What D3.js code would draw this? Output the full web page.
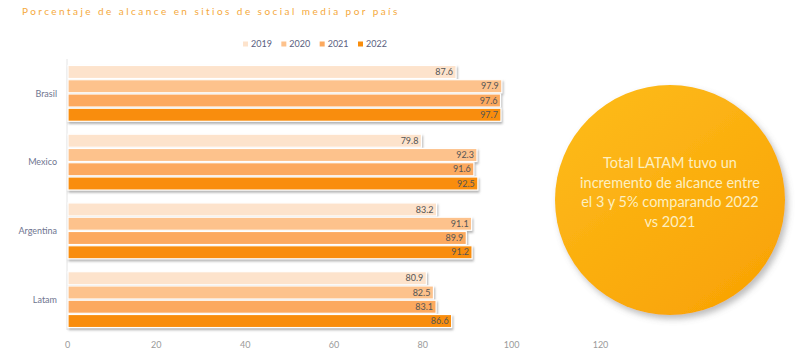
<!DOCTYPE html>
<html lang="es">
<head>
    <meta charset="UTF-8">
    <title>Alcance social media</title>
    <script src="https://d3js.org/d3.v7.min.js"></script>
    <style>
        body { margin: 0; background: #fff; }
        text { font-family: Lato, "Liberation Sans", sans-serif; }
        .tick text { fill: #9a9a9a; font-size: 9px; }
        .cat-label { fill: #6f7590; font-size: 9px; }
        .val { fill: #555; font-size: 9px; }
        .legend text { fill: #5a6080; font-size: 9px; }
    </style>
</head>
<body>
<svg id="chart" width="800" height="364"></svg>
<script>
    // data
    var countries = ["Brasil", "Mexico", "Argentina", "Latam"];
    var years = ["2019", "2020", "2021", "2022"];
    var v2019 = [87.6, 79.8, 83.2, 80.9];
    var v2020 = [97.9, 92.3, 91.1, 82.5];
    var v2021 = [97.6, 91.6, 89.9, 83.1];
    var v2022 = [97.7, 92.5, 91.2, 86.6];
    var xTicks = [0, 20, 40, 60, 80, 100, 120];
    var yearColours = ["#fde3cc", "#fdc28c", "#fca95e", "#f98d0c"];
    var circleLines = ["Total LATAM tuvo un", "incremento de alcance entre",
        "el 3 y 5% comparando 2022", "vs 2021"];

    var series = [v2019, v2020, v2021, v2022];
    var rows = countries.map(function (c, i) {
        return {
            country: c,
            values: years.map(function (y, j) { return {year: y, value: series[j][i]}; })
        };
    });

    var svg = d3.select("#chart");
    var defs = svg.append("defs");

    defs.append("filter").attr("id", "barShadow")
        .attr("x", "-5%").attr("y", "-20%").attr("width", "115%").attr("height", "150%")
        .append("feDropShadow")
        .attr("dx", 1).attr("dy", 2).attr("stdDeviation", 1)
        .attr("flood-color", "#808080").attr("flood-opacity", 0.6);

    defs.append("filter").attr("id", "circleShadow")
        .attr("x", "-20%").attr("y", "-20%").attr("width", "150%").attr("height", "150%")
        .append("feDropShadow")
        .attr("dx", 3).attr("dy", 4).attr("stdDeviation", 3)
        .attr("flood-color", "#707070").attr("flood-opacity", 0.45);

    var grad = defs.append("linearGradient").attr("id", "circleGrad")
        .attr("x1", "20%").attr("y1", "10%").attr("x2", "85%").attr("y2", "95%");
    grad.append("stop").attr("offset", "0%").attr("stop-color", "#fdb919");
    grad.append("stop").attr("offset", "100%").attr("stop-color", "#f9a304");

    // title
    svg.append("text")
        .attr("x", 22).attr("y", 15)
        .attr("fill", "#f5a93c")
        .style("font-size", "10px")
        .style("letter-spacing", "2.45px")
        .text("Porcentaje de alcance en sitios de social media por país");

    var x = d3.scaleLinear().domain([0, 120]).range([67, 600]);
    var y0 = d3.scaleBand().domain(countries).range([59, 334])
        .paddingInner(0.17).paddingOuter(0.085);
    var y1 = d3.scaleBand().domain(years).range([0, y0.bandwidth()]).padding(0);
    var colour = d3.scaleOrdinal().domain(years).range(yearColours);

    // x axis, labels only
    var xAxis = svg.append("g")
        .attr("transform", "translate(0,342)")
        .call(d3.axisBottom(x).tickValues(xTicks).tickSize(0).tickPadding(0));
    xAxis.select(".domain").remove();

    // faint category axis line
    svg.append("line")
        .attr("x1", x(0)).attr("x2", x(0))
        .attr("y1", 59).attr("y2", 330)
        .attr("stroke", "#e4e4e4");

    var group = svg.selectAll(".group")
        .data(rows)
        .enter().append("g")
        .attr("class", "group")
        .attr("transform", function (d) { return "translate(0," + y0(d.country) + ")"; });

    group.append("g")
        .attr("filter", "url(#barShadow)")
        .selectAll("rect")
        .data(function (d) { return d.values; })
        .enter().append("rect")
        .attr("x", x(0) + 1)
        .attr("y", function (d) { return y1(d.year) + 0.6; })
        .attr("width", function (d) { return x(d.value) - x(0) - 1; })
        .attr("height", y1.bandwidth() - 1.2)
        .attr("fill", function (d) { return colour(d.year); })
        .attr("stroke", "#fff")
        .attr("stroke-width", 1.2);

    group.selectAll(".val")
        .data(function (d) { return d.values; })
        .enter().append("text")
        .attr("class", "val")
        .attr("x", function (d) { return x(d.value) - 3; })
        .attr("y", function (d) { return y1(d.year) + y1.bandwidth() / 2; })
        .attr("dy", "0.35em")
        .attr("text-anchor", "end")
        .text(function (d) { return d3.format(".1f")(d.value); });

    svg.selectAll(".cat-label")
        .data(countries)
        .enter().append("text")
        .attr("class", "cat-label")
        .attr("x", 57)
        .attr("y", function (d) { return y0(d) + y0.bandwidth() / 2; })
        .attr("dy", "0.35em")
        .attr("text-anchor", "end")
        .text(function (d) { return d; });

    // legend
    var legendX = d3.scalePoint().domain(years).range([243, 358]);
    var legend = svg.append("g").attr("class", "legend")
        .selectAll("g")
        .data(years)
        .enter().append("g")
        .attr("transform", function (d) { return "translate(" + legendX(d) + ",44)"; });
    legend.append("rect")
        .attr("x", 0).attr("y", -2.5).attr("width", 5).attr("height", 5)
        .attr("fill", function (d) { return colour(d); });
    legend.append("text")
        .attr("x", 8).attr("dy", "0.35em")
        .text(function (d) { return d; });

    // highlight circle
    var cx = 670, cy = 200, r = 115;
    svg.append("circle")
        .attr("cx", cx).attr("cy", cy).attr("r", r)
        .attr("fill", "url(#circleGrad)")
        .attr("filter", "url(#circleShadow)");

    svg.append("g").selectAll("text")
        .data(circleLines)
        .enter().append("text")
        .attr("x", cx)
        .attr("y", function (d, i) { return 168 + i * 19.5; })
        .attr("text-anchor", "middle")
        .attr("fill", "#fdefc0")
        .style("font-size", "14.5px")
        .text(function (d) { return d; });
</script>
</body>
</html>
